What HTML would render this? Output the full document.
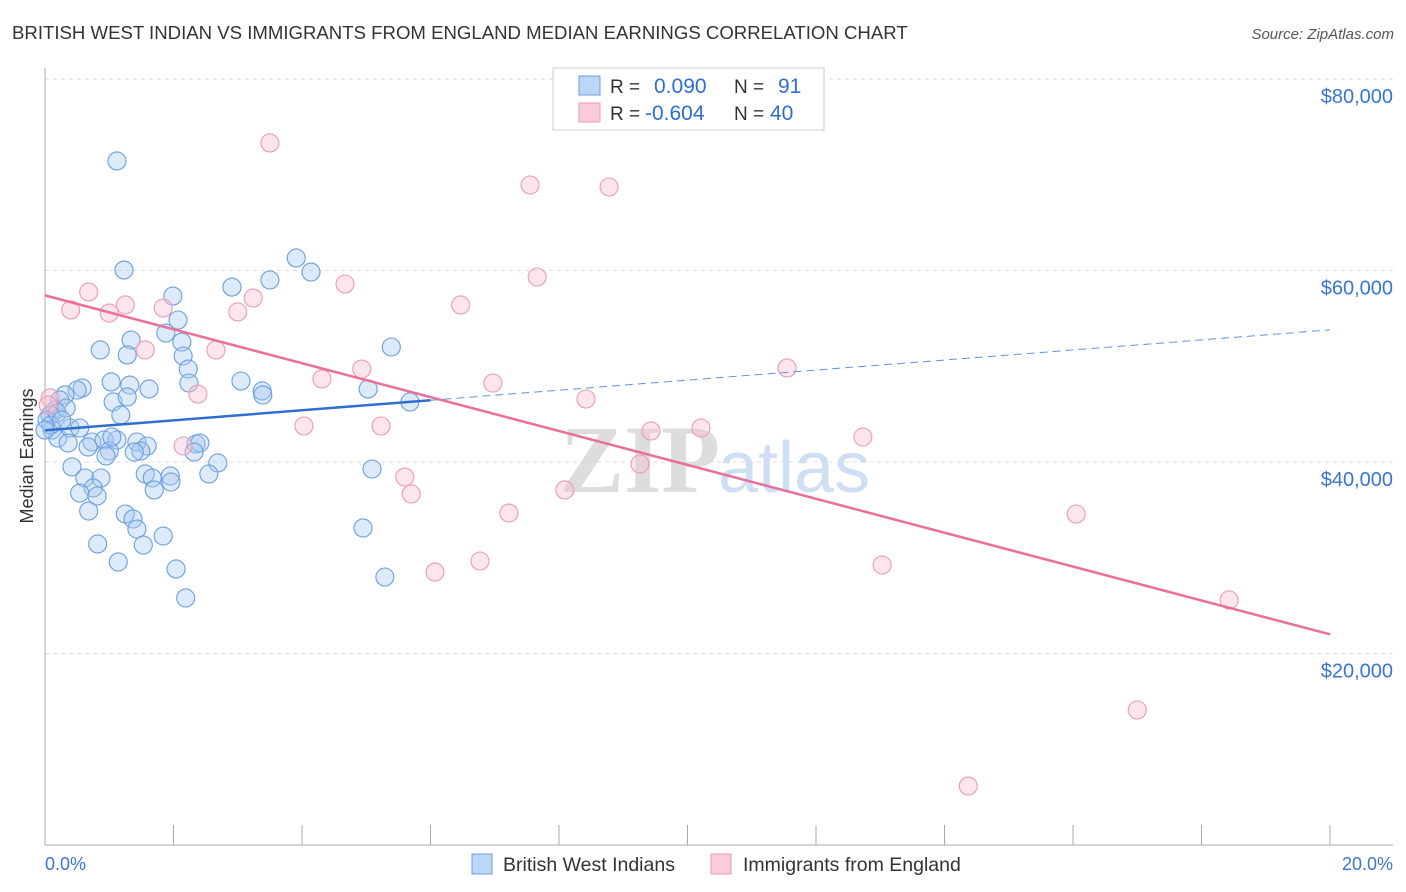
<!DOCTYPE html>
<html><head><meta charset="utf-8"><style>
body{margin:0;background:#fff;font-family:"Liberation Sans",sans-serif;}
svg{display:block}
</style></head><body>
<svg id="chart" width="1406" height="892">
<text x="12" y="39" font-size="18.6" fill="#333">BRITISH WEST INDIAN VS IMMIGRANTS FROM ENGLAND MEDIAN EARNINGS CORRELATION CHART</text>
<text x="1394" y="39" font-size="15" fill="#555" text-anchor="end" font-style="italic">Source: ZipAtlas.com</text>
<g id="grid"></g>
<text x="720" y="492" font-size="96" fill="#ddd" text-anchor="end" font-family="Liberation Serif,serif" font-weight="bold">ZIP</text>
<text x="718" y="492" font-size="72" fill="#cfdff3">atlas</text>
<g id="pts"></g>
<g id="trends"></g>
<text x="33" y="456" font-size="18" fill="#333" text-anchor="middle" transform="rotate(-90 33 456)">Median Earnings</text>
<text x="45" y="870" font-size="18" fill="#3a75d0">0.0%</text>
<text x="1393" y="870" font-size="18" fill="#3a75d0" text-anchor="end">20.0%</text>
<g>
<rect x="553" y="68" width="271" height="62" fill="#fff" stroke="#ccc"/>
<rect x="579" y="76" width="21" height="19" fill="#bcd6f5" stroke="#6a9ee0"/>
<rect x="579" y="103" width="21" height="19" fill="#fbcbd9" stroke="#ee9ab5"/>
<text x="610" y="93" font-size="19" fill="#333">R =</text>
<text x="654" y="93" font-size="21" fill="#2f6ed1">0.090</text>
<text x="734" y="93" font-size="19" fill="#333">N =</text>
<text x="778" y="93" font-size="21" fill="#2f6ed1">91</text>
<text x="610" y="120" font-size="19" fill="#333">R =</text>
<text x="645" y="120" font-size="21" fill="#2f6ed1">-0.604</text>
<text x="734" y="120" font-size="19" fill="#333">N =</text>
<text x="770" y="120" font-size="21" fill="#2f6ed1">40</text>
</g>
<g>
<rect x="472" y="854" width="20" height="20" fill="#bcd6f5" stroke="#6a9ee0"/>
<text x="503" y="871" font-size="19.5" fill="#333">British West Indians</text>
<rect x="711" y="854" width="20" height="20" fill="#fbcbd9" stroke="#ee9ab5"/>
<text x="743" y="871" font-size="19.5" fill="#333">Immigrants from England</text>
</g>
</svg>
<script>
const yTicks=[20000,40000,60000,80000];
const yTickLabels=["$20,000","$40,000","$60,000","$80,000"];
const xTicks=[2,4,6,8,10,12,14,16,18,20];
const blueX=[1.12,1.23,3.91,3.50,4.14,2.91,1.99,2.07,1.88,2.13,2.15,0.86,1.34,1.28,5.39,2.23,2.24,3.05,5.03,3.38,3.39,5.68,1.03,1.32,1.62,0.58,0.50,0.31,0.23,0.16,0.08,0.03,0.11,0.20,0.39,0.54,1.06,1.28,1.18,0.73,0.67,0.92,1.12,1.00,0.95,1.43,1.59,1.49,1.39,2.35,2.41,2.32,2.69,0.42,0.62,0.87,1.56,1.67,1.95,1.96,2.55,0.75,0.54,0.81,1.70,5.09,1.25,1.37,1.43,0.68,1.84,0.82,1.53,1.14,2.04,2.19,4.95,5.29,0.09,0.19,0.33,0.00,0.36,1.04,0.26];
const blueY=[71.44,60.05,61.31,59.01,59.84,58.27,57.33,54.83,53.47,52.53,51.07,51.70,52.74,51.18,52.01,49.71,48.25,48.46,47.63,47.42,47.00,46.27,48.36,48.04,47.63,47.73,47.52,47.00,46.48,45.43,44.91,44.39,43.34,42.51,43.55,43.55,46.27,46.79,44.91,42.09,41.57,42.30,42.30,41.15,40.63,42.09,41.67,41.15,41.04,41.88,41.98,41.04,39.90,39.48,38.33,38.33,38.75,38.33,38.54,37.91,38.75,37.29,36.76,36.45,37.08,39.27,34.57,34.05,33.00,34.88,32.27,31.44,31.33,29.56,28.83,25.80,33.11,27.99,43.86,45.12,45.64,43.34,41.98,42.61,44.39];
const pinkX=[3.50,7.55,8.78,7.66,4.67,0.68,0.40,1.25,1.00,1.84,3.00,3.24,6.47,1.56,2.66,4.93,4.31,6.97,11.55,2.38,8.42,4.03,5.23,9.43,10.21,12.73,2.15,9.26,5.60,5.70,8.09,7.22,16.05,6.77,6.07,13.03,18.43,17.00,14.37,0.08,0.05];
const pinkY=[73.32,68.93,68.72,59.32,58.59,57.76,55.88,56.40,55.56,56.08,55.67,57.13,56.40,51.70,51.70,49.71,48.67,48.25,49.82,47.10,46.58,43.76,43.76,43.24,43.55,42.61,41.67,39.79,38.43,36.66,37.08,34.67,34.57,29.66,28.51,29.24,25.59,14.10,6.16,46.69,45.95];
const blueTrendX=[0,6.0,20];const blueTrendY=[43.3,46.45,53.8];
const pinkTrendX=[0,20];const pinkTrendY=[57.4,22.0];
const NS="http://www.w3.org/2000/svg";
const X=v=>45+v*64.25;
const Y=v=>845-v*0.009575;
const Yk=v=>Y(v*1000);
function mk(t,a,p){const e=document.createElementNS(NS,t);for(const k in a)e.setAttribute(k,a[k]);p.appendChild(e);return e;}
const grid=document.getElementById('grid');
yTicks.forEach((v,i)=>{
 const l=mk('line',{x1:45,x2:1393,y1:Y(v),y2:Y(v),stroke:'#ddd','stroke-dasharray':'4,4'},grid);
 
 
 const t=mk('text',{x:1393,y:Y(v)+24,'font-size':20,fill:'#3a75d0','text-anchor':'end'},grid);
 t.textContent=yTickLabels[i];
 
 
});
mk('line',{x1:45,x2:1393,y1:845,y2:845,stroke:'#aaa'},grid);
mk('line',{x1:45,x2:45,y1:68,y2:845,stroke:'#aaa'},grid);
xTicks.forEach(v=>{
 const l=mk('line',{x1:X(v),x2:X(v),y1:825,y2:845,stroke:'#aaa'},grid);
 
 
});
const pts=document.getElementById('pts');
blueX.forEach((x,i)=>{
 const c=mk('circle',{cx:X(x),cy:Yk(blueY[i]),r:9,fill:'rgba(170,202,240,0.4)',stroke:'#6a9ee0','stroke-width':1.1},pts);
 
 
});
pinkX.forEach((x,i)=>{
 const c=mk('circle',{cx:X(x),cy:Yk(pinkY[i]),r:9,fill:'rgba(248,190,208,0.4)',stroke:'#ee9ab5','stroke-width':1.1},pts);
 
 
});
const tr=document.getElementById('trends');
let a=mk('line',{x1:X(blueTrendX[0]),y1:Yk(blueTrendY[0]),x2:X(blueTrendX[1]),y2:Yk(blueTrendY[1]),stroke:'#2f6ed1','stroke-width':2.5},tr);


let b=mk('line',{x1:X(blueTrendX[1]),y1:Yk(blueTrendY[1]),x2:X(blueTrendX[2]),y2:Yk(blueTrendY[2]),stroke:'#5d95de','stroke-width':1,'stroke-dasharray':'8,5'},tr);


let c=mk('line',{x1:X(pinkTrendX[0]),y1:Yk(pinkTrendY[0]),x2:X(pinkTrendX[1]),y2:Yk(pinkTrendY[1]),stroke:'#e8709a','stroke-width':2.5},tr);


</script>
</body></html>
